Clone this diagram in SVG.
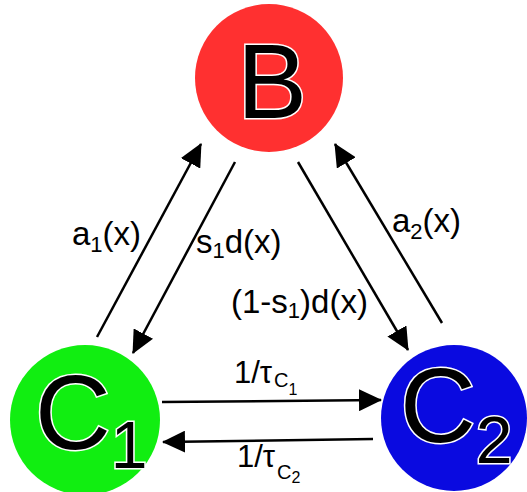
<svg xmlns="http://www.w3.org/2000/svg" width="527" height="492" viewBox="0 0 527 492">
<defs>
<style>
.big{font-family:"Liberation Sans",Arial,sans-serif;font-size:105px;fill:#000;stroke:#fff;stroke-width:3;paint-order:stroke}
.lbl{font-family:"Liberation Sans",Arial,sans-serif;font-size:33px;fill:#000}
.rate{font-family:"Liberation Sans",Arial,sans-serif;font-size:31px;fill:#000}
.edge{stroke:#000;stroke-width:2.5;fill:none;marker-end:url(#ah)}
</style>
<marker id="ah" markerUnits="userSpaceOnUse" viewBox="0 0 23 22" markerWidth="23" markerHeight="22" refX="22" refY="11" orient="auto">
<path d="M0,0 L23,11 L0,22 Z" fill="#000"/>
</marker>
</defs>
<rect width="527" height="492" fill="#fff"/>
<g id="connectors">
<line class="edge" x1="97" y1="337" x2="201" y2="144"/>
<line class="edge" x1="235" y1="162" x2="133" y2="353"/>
<line class="edge" x1="298" y1="162" x2="408" y2="350"/>
<line class="edge" x1="442" y1="323" x2="335" y2="144"/>
<line class="edge" x1="162" y1="402" x2="381" y2="400"/>
<line class="edge" x1="373" y1="439" x2="163" y2="442"/>
<text class="lbl" x="72" y="245">a<tspan font-size="22" dy="7">1</tspan><tspan dy="-7">(x)</tspan></text>
<text class="lbl" x="196" y="253">s<tspan font-size="22" dy="5">1</tspan><tspan dy="-5">d(x)</tspan></text>
<text class="lbl" x="231" y="313">(1-s<tspan font-size="22" dy="5">1</tspan><tspan dy="-5">)d(x)</tspan></text>
<text class="lbl" x="392" y="232">a<tspan font-size="22" dy="7">2</tspan><tspan dy="-7">(x)</tspan></text>
<text class="rate" x="234" y="383">1/τ<tspan font-size="20" dx="2" dy="4">C</tspan><tspan font-size="16" dy="8">1</tspan></text>
<text class="rate" x="237" y="467">1/τ<tspan font-size="20" dx="2" dy="12">C</tspan><tspan font-size="16" dy="4">2</tspan></text>
</g>
<g id="node-B">
<circle cx="269" cy="78" r="74" fill="#ff3030"/>
<text class="big" x="237" y="118">B</text>
</g>
<g id="node-C1">
<circle cx="85" cy="420" r="75" fill="#11ee11"/>
<text class="big" x="35" y="449">C<tspan font-size="66" dy="19">1</tspan></text>
</g>
<g id="node-C2">
<circle cx="454" cy="418" r="73" fill="#0a0ae0"/>
<text class="big" x="400" y="442">C<tspan font-size="66" dy="21">2</tspan></text>
</g>
</svg>
